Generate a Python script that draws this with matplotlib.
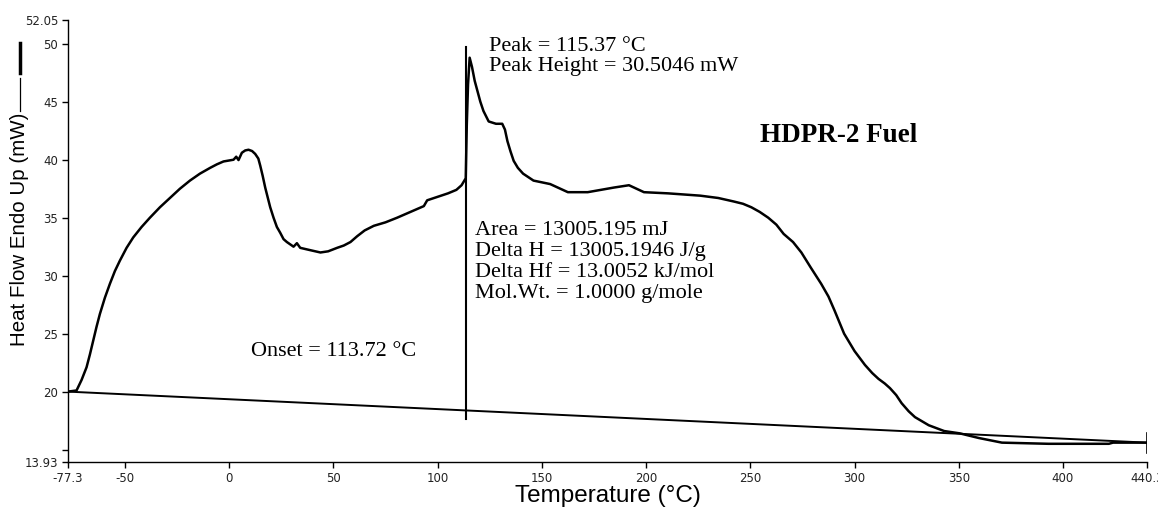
import matplotlib
matplotlib.use("Agg")
import matplotlib.pyplot as plt
from matplotlib.lines import Line2D

# DSC trace
temperature = [-77.3, -73.2, -70.8, -68.4, -66.8, -65.2, -63.6, -62.0, -59.6, -57.2, -54.8, -52.4,
               -49.2, -46.0, -42.0, -38.0, -33.2, -28.4, -23.6, -18.8, -14.0, -9.1, -5.9,
               -2.7, 2.1, 3.4, 4.5, 6.1, 7.7, 9.3, 11.0, 12.5, 14.0, 14.9, 16.1, 17.3,
               19.7, 21.3, 22.9, 24.5, 26.1, 27.7, 29.3, 30.9, 32.5, 34.1, 38.9, 43.8,
               47.5, 51.8, 55.0, 58.2, 61.4, 65.0, 69.4, 75.0, 80.6, 87.0, 93.4, 95.0,
               100.0, 105.0, 109.0, 111.5, 113.5,
               114.0, 114.6, 115.37, 116.5, 117.8, 119.0, 120.5, 122.0, 124.5, 128.0, 131.0,
               132.3, 133.5, 135.0, 136.5, 138.5, 141.0, 146.0, 154.0, 162.5, 172.0,
               184.6, 191.8, 199.0, 210.5, 226.0, 234.6, 242.0, 246.5, 250.5, 254.5,
               258.6, 262.5, 266.0, 270.5, 274.5, 279.0, 284.0, 287.5, 290.4, 295.0,
               300.0, 305.0, 308.5, 311.5, 314.5, 317.0, 320.0, 322.6, 326.0, 329.0,
               335.6, 343.0, 350.5, 359.6, 370.7, 393.0, 422.0, 424.0, 440.3]
heat_flow = [20.0, 20.1, 21.0, 22.1, 23.2, 24.4, 25.6, 26.7, 28.1, 29.3, 30.4, 31.3,
             32.4, 33.3, 34.2, 35.0, 35.9, 36.7, 37.5, 38.2, 38.8, 39.3, 39.6,
             39.85, 40.0, 40.26, 39.97, 40.6, 40.8, 40.86, 40.75, 40.5, 40.1, 39.5, 38.6, 37.6,
             35.9, 35.0, 34.2, 33.7, 33.15, 32.9, 32.7, 32.5, 32.8, 32.4, 32.2, 32.0,
             32.1, 32.4, 32.6, 32.9, 33.4, 33.9, 34.3, 34.6, 35.0, 35.5, 36.0, 36.5,
             36.8, 37.1, 37.4, 37.8, 38.4,
             43.0, 46.5, 48.8, 48.0, 46.8, 46.0, 45.0, 44.2, 43.3, 43.1, 43.1,
             42.6, 41.6, 40.7, 39.9, 39.3, 38.8, 38.2, 37.9, 37.2, 37.2,
             37.6, 37.8, 37.2, 37.1, 36.9, 36.7, 36.4, 36.2, 35.9, 35.5,
             35.0, 34.4, 33.6, 32.9, 32.0, 30.7, 29.3, 28.2, 27.0, 25.0,
             23.5, 22.3, 21.6, 21.1, 20.7, 20.3, 19.7, 19.0, 18.3, 17.8,
             17.1, 16.6, 16.4, 16.0, 15.6, 15.5, 15.5, 15.6, 15.6]

baseline_temp = [-77.3, 440.3]
baseline_flow = [20.0, 15.6]

onset_temp = 113.72
onset_line = [17.6, 49.7]
end_marker = [14.7, 16.4]

x_ticks = [-77.3, -50, 0, 50, 100, 150, 200, 250, 300, 350, 400, 440.3]
x_labels = ["-77.3", "-50", "0", "50", "100", "150", "200", "250", "300", "350", "400", "440.3"]
y_ticks = [13.93, 15, 20, 25, 30, 35, 40, 45, 50, 52.05]
y_labels = ["13.93", "", "20", "25", "30", "35", "40", "45", "50", "52.05"]

W, H = 1158, 507
fig = plt.figure(figsize=(W / 100, H / 100), dpi=100)
ax = fig.add_axes([68 / W, 45 / H, (1147 - 68) / W, (462 - 20) / H])

ax.plot(temperature, heat_flow, color="black", lw=1.8, solid_joinstyle="round")
ax.plot(baseline_temp, baseline_flow, color="black", lw=1.4)
ax.plot([onset_temp, onset_temp], onset_line, color="black", lw=1.5)
ax.plot([440.3, 440.3], end_marker, color="black", lw=1.2)

ax.set_xlim(-77.3, 440.3)
ax.set_ylim(13.93, 52.05)
ax.set_xticks(x_ticks)
ax.set_xticklabels(x_labels)
ax.set_yticks(y_ticks)
ax.set_yticklabels(y_labels)
ax.tick_params(direction="out", length=4, width=1, labelsize=8.5,
               labelcolor="#222222", pad=3)
for side in ["top", "right"]:
    ax.spines[side].set_visible(False)
for side in ["left", "bottom"]:
    ax.spines[side].set_linewidth(1)

ax.set_xlabel("Temperature (°C)", fontsize=17.5, family="Liberation Sans", labelpad=0)

# y label, then the thin and thick line samples above it
fig.text(20 / W, 1 - 346 / H, "Heat Flow Endo Up (mW)", rotation=90,
         fontsize=14.8, family="Liberation Sans", ha="center", va="bottom")
fig.add_artist(Line2D([20 / W, 20 / W], [1 - 78 / H, 1 - 111 / H], color="black", lw=0.9))
fig.add_artist(Line2D([20 / W, 20 / W], [1 - 43 / H, 1 - 73 / H], color="black", lw=2.5))

serif = dict(family="Liberation Serif", fontsize=16, va="center", color="black")
ax.text(124.5, 49.8, "Peak = 115.37 °C", **serif)
ax.text(124.5, 48.0, "Peak Height = 30.5046 mW", **serif)
ax.text(118.0, 33.9, "Area = 13005.195 mJ", **serif)
ax.text(118.0, 32.05, "Delta H = 13005.1946 J/g", **serif)
ax.text(118.0, 30.25, "Delta Hf = 13.0052 kJ/mol", **serif)
ax.text(118.0, 28.45, "Mol.Wt. = 1.0000 g/mole", **serif)
ax.text(10.5, 23.5, "Onset = 113.72 °C", **serif)
ax.text(254.8, 42.07, "HDPR-2 Fuel", family="Liberation Serif", fontsize=19.5,
        fontweight="bold", va="center")

fig.savefig("out.png", dpi=100)
